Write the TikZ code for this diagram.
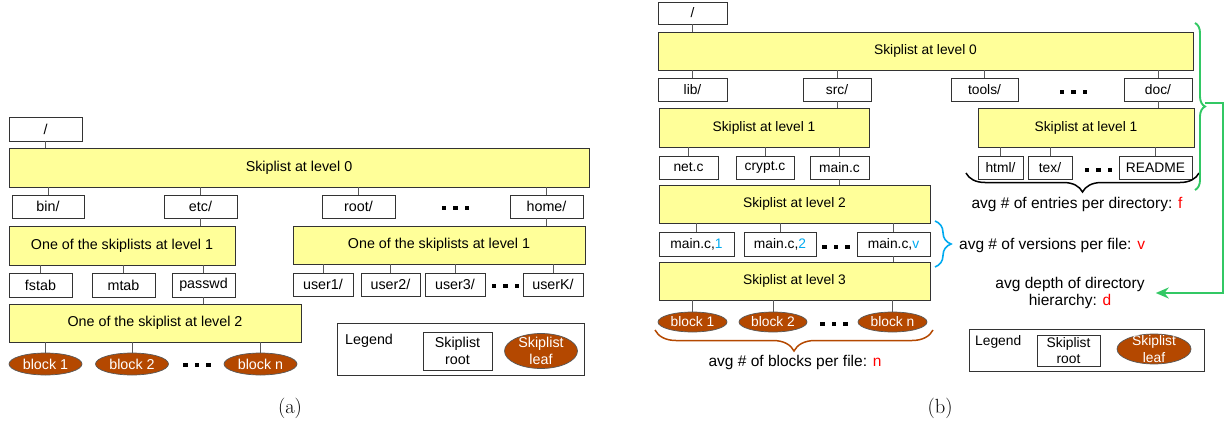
\documentclass[tikz,border=0pt]{standalone}
\usepackage{fontspec}
\newfontfamily\arial{Liberation Sans}
\usetikzlibrary{shapes.geometric,decorations.pathreplacing,arrows.meta}
\definecolor{lvlyellow}{RGB}{255,255,153}
\definecolor{leafbrown}{RGB}{180,72,0}
\definecolor{verblue}{RGB}{0,170,240}
\definecolor{depthgreen}{RGB}{50,200,100}
\definecolor{varred}{RGB}{255,0,0}
\begin{document}
\begin{tikzpicture}[x=1pt,y=-1pt,
  fa/.style={font=\arial\fontsize{14.3}{17}\selectfont},
  fb/.style={font=\arial\fontsize{13.8}{16.5}\selectfont},
  fn/.style={font=\arial\fontsize{15.5}{17.5}\selectfont},
  wh/.style 2 args={minimum width=#1pt,minimum height=#2pt},
  box/.style={draw=black!80,line width=0.7pt,fill=white,inner sep=0pt},
  lvl/.style={box,fill=lvlyellow},
  leaf/.style={ellipse,draw=black!65,line width=0.7pt,fill=leafbrown,text=white,inner sep=0pt},
  link/.style={draw=black!65,line width=0.7pt},
  dotrow/.pic={\foreach \dx in {-11.5,0,11.5} \fill (\dx-2.2,-2.2) rectangle ++(4.4,4.4);},
  bracedeco/.style={decorate,decoration={brace,amplitude=#1pt}},
  capt/.style={font=\fontsize{20.5}{24}\selectfont}
]
\useasboundingbox (0,0) rectangle (1225,425);

% ---------------- (a) ----------------
\node[box,fa,wh={73}{24}] (ra) at (45.5,129) {/};
\node[lvl,fa,wh={580}{39}] (l0a) at (299,167.5) {Skiplist at level 0};
\node[box,fa,wh={72}{23}] (bin) at (48,206.5) {bin/};
\node[box,fa,wh={73}{23}] (etc) at (200.5,206.5) {etc/};
\node[box,fa,wh={73}{23}] (rootd) at (358.5,206.5) {root/};
\pic at (455.5,208) {dotrow};
\node[box,fa,wh={73}{23}] (home) at (546.5,206.5) {home/};
\node[lvl,fa,wh={226}{39}] (l1a) at (122,245.5) {One of the skiplists at level 1};
\node[lvl,fa,wh={292}{38}] (l1b) at (439,245) {One of the skiplists at level 1};
\node[box,fa,wh={63}{24}] (fstab) at (40.5,285) {fstab};
\node[box,fa,wh={63}{24}] (mtab) at (123.5,285) {mtab};
\node[box,fa,wh={63}{24}] (passwd) at (203.5,285) {passwd};
\node[box,fa,wh={60}{23}] (u1) at (323,284.5) {user1/};
\node[box,fa,wh={59}{23}] (u2) at (390.5,284.5) {user2/};
\node[box,fa,wh={60}{23}] (u3) at (455,284.5) {user3/};
\pic at (505.5,286) {dotrow};
\node[box,fa,wh={60}{23}] (uk) at (553,284.5) {userK/};
\node[lvl,fa,wh={292}{38}] (l2a) at (155,323) {One of the skiplist at level 2};
\node[leaf,fa,wh={73}{22}] (b1a) at (45.5,364) {block 1};
\node[leaf,fa,wh={73}{22}] (b2a) at (132,364) {block 2};
\pic at (197,365) {dotrow};
\node[leaf,fa,wh={73}{22}] (bna) at (260.5,364) {block n};

\draw[link] (ra.south) -- (ra.south |- l0a.north);
\foreach \c in {bin,etc,rootd,home} \draw[link] (\c.north) -- (\c.north |- l0a.south);
\draw[link] (etc.south) -- (etc.south |- l1a.north);
\draw[link] (home.south) -- (home.south |- l1b.north);
\foreach \c in {fstab,mtab,passwd} \draw[link] (\c.north) -- (\c.north |- l1a.south);
\foreach \c in {u1,u2,u3,uk} \draw[link] (\c.north) -- (\c.north |- l1b.south);
\draw[link] (passwd.south) -- (passwd.south |- l2a.north);
\foreach \c in {b1a,b2a,bna} \draw[link] (\c.north) -- (\c.north |- l2a.south);

% legend (a)
\node[box,wh={247}{52}] (lega) at (460.5,349) {};
\node[fa,anchor=west,inner sep=0pt] (legta) at (345,341) {Legend};
\node[box,fa,wh={69}{38},align=center] (legra) at (457.5,351) {Skiplist\\root};
\node[leaf,wh={73}{35}] (legla) at (541,351) {};
\node[fa,text=white,align=center,inner sep=0pt] (leglta) at (541,351) {Skiplist\\leaf};

\node[capt] (capa) at (290,408) {(a)};

% ---------------- (b) ----------------
\node[box,fb,wh={69}{22}] (rb) at (692.5,13) {/};
\node[lvl,fb,wh={535}{38}] (l0b) at (925.5,51) {Skiplist at level 0};
\node[box,fb,wh={69}{23}] (lib) at (692.5,89.5) {lib/};
\node[box,fb,wh={68}{23}] (src) at (837,89.5) {src/};
\node[box,fb,wh={67}{23}] (tools) at (984.5,89.5) {tools/};
\pic at (1073.5,92) {dotrow};
\node[box,fb,wh={68}{23}] (doc) at (1158,89.5) {doc/};
\node[lvl,fb,wh={210}{39}] (l1c) at (764,127.5) {Skiplist at level 1};
\node[lvl,fb,wh={216}{39}] (l1d) at (1086,127.5) {Skiplist at level 1};
\node[box,fb,wh={59}{23}] (netc) at (688.5,167.5) {net.c};
\node[box,fb,wh={58}{23}] (cryptc) at (765,167.5) {crypt.c};
\node[box,fb,wh={59}{23}] (mainc) at (839.5,167.5) {main.c};
\node[box,fb,wh={45}{23}] (html) at (1000.5,167.5) {html/};
\node[box,fb,wh={44}{23}] (tex) at (1050,167.5) {tex/};
\pic at (1098.5,170) {dotrow};
\node[box,fb,wh={73}{23}] (readme) at (1155.5,167.5) {README};
\node[lvl,fb,wh={271}{38}] (l2b) at (794.5,204) {Skiplist at level 2};
\node[box,fb,wh={75}{24}] (mc1) at (696.5,244) {main.c,{\color{verblue}1}};
\node[box,fb,wh={72}{24}] (mc2) at (780,244) {main.c,{\color{verblue}2}};
\pic at (836,247) {dotrow};
\node[box,fb,wh={73}{24}] (mcv) at (893.5,244) {main.c,{\color{verblue}v}};
\node[lvl,fb,wh={271}{38}] (l3b) at (794.5,281) {Skiplist at level 3};
\node[leaf,fb,wh={69}{20}] (b1b) at (692.5,322) {block 1};
\node[leaf,fb,wh={68}{20}] (b2b) at (773,322) {block 2};
\pic at (834,324) {dotrow};
\node[leaf,fb,wh={69}{20}] (bnb) at (892.5,322) {block n};

\draw[link] (rb.south) -- (rb.south |- l0b.north);
\foreach \c in {lib,src,tools,doc} \draw[link] (\c.north) -- (\c.north |- l0b.south);
\draw[link] (src.south) -- (src.south |- l1c.north);
\draw[link] (doc.south) -- (doc.south |- l1d.north);
\foreach \c in {netc,cryptc,mainc} \draw[link] (\c.north) -- (\c.north |- l1c.south);
\foreach \c in {html,tex,readme} \draw[link] (\c.north) -- (\c.north |- l1d.south);
\draw[link] (mainc.south) -- (mainc.south |- l2b.north);
\foreach \c in {mc1,mc2,mcv} \draw[link] (\c.north) -- (\c.north |- l2b.south);
\draw[link] (mcv.south) -- (mcv.south |- l3b.north);
\foreach \c in {b1b,b2b,bnb} \draw[link] (\c.north) -- (\c.north |- l3b.south);

% braces and annotations
\draw[bracedeco=21,leafbrown,line width=1.5pt] (933,330) -- (655,330);
\node[fn] (blocksnote) at (795,362) {avg \# of blocks per file: {\color{varred}n}};
\draw[bracedeco=19,black,line width=1.5pt] (1199,173) -- (966,173);
\node[fn] (entriesnote) at (1077,204) {avg \# of entries per directory: {\color{varred}f}};
\draw[bracedeco=16,verblue,line width=1.6pt] (935,221) -- (935,267);
\node[fn,anchor=west,inner sep=0pt] (versionsnote) at (959,245) {avg \# of versions per file: {\color{varred}v}};
\draw[bracedeco=10,depthgreen,line width=1.9pt] (1195,23) -- (1195,190);
\node[fn,align=center,inner sep=0pt] (depthnote) at (1070,293) {avg depth of directory\\hierarchy: {\color{varred}d}};
\coordinate (gtip) at (1205,103);
\draw[depthgreen,line width=2.6pt,-{Stealth[length=13pt,width=11pt]}]
  (gtip) -- ++(18,0) |- ([xshift=11pt]depthnote.east);

% legend (b)
\node[box,wh={235}{42}] (legb) at (1086.5,350) {};
\node[fb,anchor=west,inner sep=0pt] (legtb) at (975,342) {Legend};
\node[box,wh={63}{31}] (legrb) at (1068.5,350.5) {};
\node[fb,align=center,inner sep=0pt] (legrtb) at (1068.5,350.5) {Skiplist\\root};
\node[leaf,wh={74}{30}] (leglb) at (1154,349) {};
\node[fb,text=white,align=center,inner sep=0pt] (legltb) at (1154,349) {Skiplist\\leaf};

\node[capt] (capb) at (940,408) {(b)};
\end{tikzpicture}
\end{document}
